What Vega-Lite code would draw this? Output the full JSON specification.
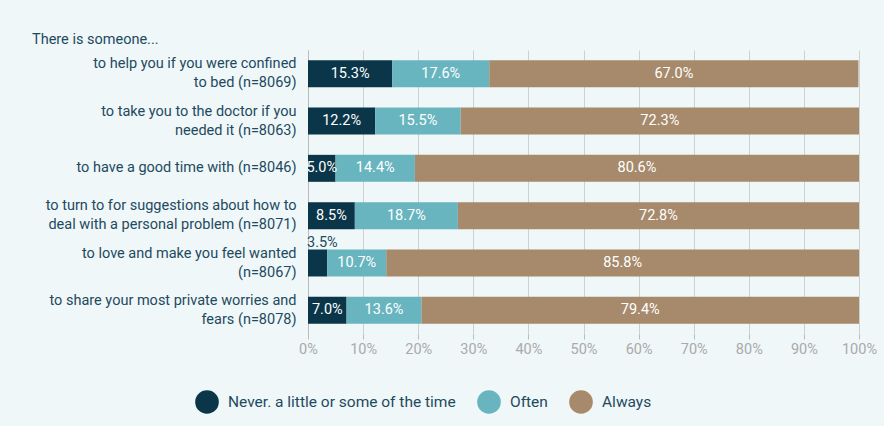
{
  "$schema": "https://vega.github.io/schema/vega-lite/v6.json",
  "width": 551,
  "height": 284,
  "autosize": {"type": "none"},
  "padding": {"left": 308, "top": 50, "right": 25, "bottom": 92},
  "background": "#eff7f9",
  "config": {"view": {"stroke": null}, "font": "Roboto"},
  "title": {"text": "There is someone...", "anchor": "start", "frame": "group", "dx": -276, "fontSize": 14.5, "fontWeight": "normal", "color": "#1e4a5e", "offset": 3},
  "data": {"values": [
    {"q": "to help you if you were confined|to bed (n=8069)", "r": "Never. a little or some of the time", "k": 1, "value": 0.153},
    {"q": "to help you if you were confined|to bed (n=8069)", "r": "Often", "k": 2, "value": 0.176},
    {"q": "to help you if you were confined|to bed (n=8069)", "r": "Always", "k": 3, "value": 0.670},
    {"q": "to take you to the doctor if you|needed it (n=8063)", "r": "Never. a little or some of the time", "k": 1, "value": 0.122},
    {"q": "to take you to the doctor if you|needed it (n=8063)", "r": "Often", "k": 2, "value": 0.155},
    {"q": "to take you to the doctor if you|needed it (n=8063)", "r": "Always", "k": 3, "value": 0.723},
    {"q": "to have a good time with (n=8046)", "r": "Never. a little or some of the time", "k": 1, "value": 0.050},
    {"q": "to have a good time with (n=8046)", "r": "Often", "k": 2, "value": 0.144},
    {"q": "to have a good time with (n=8046)", "r": "Always", "k": 3, "value": 0.806},
    {"q": "to turn to for suggestions about how to|deal with a personal problem (n=8071)", "r": "Never. a little or some of the time", "k": 1, "value": 0.085},
    {"q": "to turn to for suggestions about how to|deal with a personal problem (n=8071)", "r": "Often", "k": 2, "value": 0.187},
    {"q": "to turn to for suggestions about how to|deal with a personal problem (n=8071)", "r": "Always", "k": 3, "value": 0.728},
    {"q": "to love and make you feel wanted|(n=8067)", "r": "Never. a little or some of the time", "k": 1, "value": 0.035},
    {"q": "to love and make you feel wanted|(n=8067)", "r": "Often", "k": 2, "value": 0.107},
    {"q": "to love and make you feel wanted|(n=8067)", "r": "Always", "k": 3, "value": 0.858},
    {"q": "to share your most private worries and|fears (n=8078)", "r": "Never. a little or some of the time", "k": 1, "value": 0.070},
    {"q": "to share your most private worries and|fears (n=8078)", "r": "Often", "k": 2, "value": 0.136},
    {"q": "to share your most private worries and|fears (n=8078)", "r": "Always", "k": 3, "value": 0.794}
  ]},
  "transform": [
    {"stack": "value", "groupby": ["q"], "sort": [{"field": "k", "order": "ascending"}], "as": ["x0", "x1"]},
    {"calculate": "(datum.x0 + datum.x1) / 2", "as": "mid"}
  ],
  "encoding": {
    "y": {
      "field": "q", "type": "nominal", "sort": null,
      "scale": {"paddingInner": 0.43, "paddingOuter": 0.215},
      "axis": {
        "title": null, "labelExpr": "split(datum.label, '|')", "labelFontSize": 14.5,
        "labelColor": "#1e4a5e", "labelPadding": 12, "ticks": false, "domain": true,
        "domainColor": "#bbbbbb", "grid": false, "labelLimit": 320, "labelLineHeight": 19,
        "labelOffset": {"expr": "indexof(datum.label, '|') >= 0 ? -9.5 : 0"}
      }
    }
  },
  "layer": [
    {
      "mark": {"type": "bar"},
      "encoding": {
        "x": {"field": "x0", "type": "quantitative", "scale": {"domain": [0, 1], "nice": false},
          "axis": {"title": null, "format": ".0%", "values": [0, 0.1, 0.2, 0.3, 0.4, 0.5, 0.6, 0.7, 0.8, 0.9, 1],
            "grid": true, "gridColor": "#d0d0d0", "domain": false, "tickColor": "#bbbbbb", "tickSize": 5,
            "labelColor": "#aaaaaa", "labelFontSize": 14.5, "labelPadding": 3, "labelFlush": false}},
        "x2": {"field": "x1"},
        "color": {"field": "r", "type": "nominal",
          "scale": {"domain": ["Never. a little or some of the time", "Often", "Always"], "range": ["#0b3649", "#68b5c0", "#a68a6b"]},
          "legend": {"title": null, "orient": "none", "legendX": -113, "legendY": 340, "direction": "horizontal",
            "gridAlign": "none",
            "labelExpr": "datum.label == 'Often' ? 'Often\u00a0\u00a0\u00a0\u00a0\u00a0' : datum.label",
            "symbolType": "circle", "symbolSize": 560, "symbolStrokeWidth": 0, "symbolOpacity": 1,
            "labelFontSize": 15.5, "labelColor": "#1e4a5e", "columnPadding": 21, "labelOffset": 9, "labelLimit": 400}}
      }
    },
    {
      "transform": [{"filter": "datum.value >= 0.04"}],
      "mark": {"type": "text", "color": "white", "fontSize": 14.5},
      "encoding": {
        "x": {"field": "mid", "type": "quantitative"},
        "text": {"field": "value", "type": "quantitative", "format": ".1%"}
      }
    },
    {
      "transform": [{"filter": "datum.value < 0.04"}],
      "mark": {"type": "text", "color": "#1e4a5e", "fontSize": 14.5, "align": "left", "dx": -1, "dy": -20},
      "encoding": {
        "x": {"field": "x0", "type": "quantitative"},
        "text": {"field": "value", "type": "quantitative", "format": ".1%"}
      }
    }
  ]
}
